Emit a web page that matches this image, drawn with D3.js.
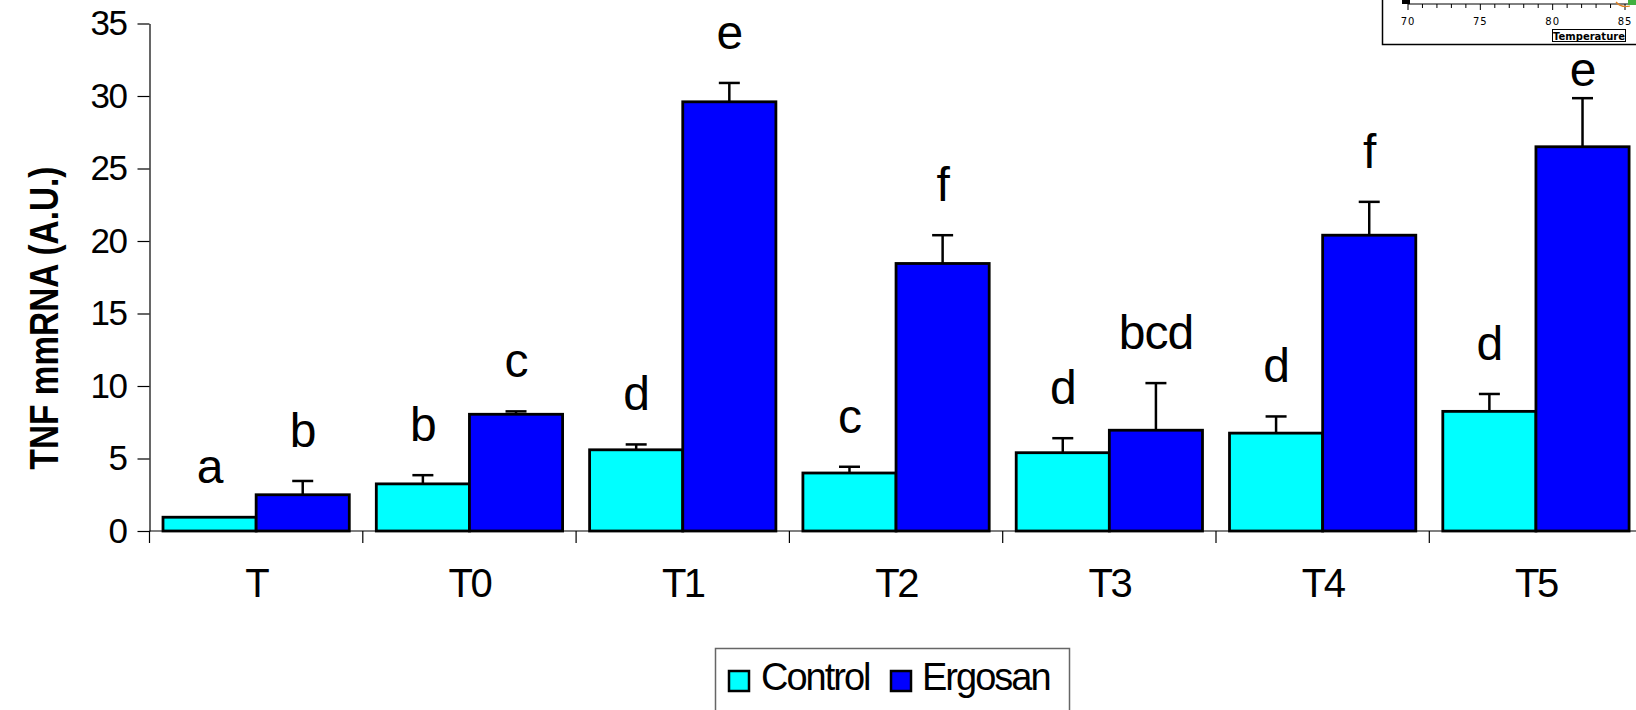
<!DOCTYPE html>
<html>
<head>
<meta charset="utf-8">
<script src="https://cdn.jsdelivr.net/npm/d3@7"></script>
<style>
  html, body { margin: 0; padding: 0; background: #fff; }
  svg { display: block; font-family: "Liberation Sans", Arial, sans-serif; }
</style>
</head>
<body>
<div id="chart"></div>
<script>
// values
var categories = ['T', 'T0', 'T1', 'T2', 'T3', 'T4', 'T5'];
var groups = ['Control', 'Ergosan'];
var controlMean = [0.95, 3.25, 5.6, 4.0, 5.4, 6.75, 8.25];
var controlErr = [0, 0.6, 0.37, 0.43, 1.0, 1.15, 1.2];
var ergosanMean = [2.5, 8.05, 29.6, 18.45, 6.95, 20.4, 26.5];
var ergosanErr = [0.95, 0.2, 1.3, 1.95, 3.25, 2.3, 3.35];
var controlLetters = ['a', 'b', 'd', 'c', 'd', 'd', 'd'];
var ergosanLetters = ['b', 'c', 'e', 'f', 'bcd', 'f', 'e'];
var yTicks = [0, 5, 10, 15, 20, 25, 30, 35];
var insetTicks = [70, 75, 80, 85];

var W = 1636, H = 710;
var colors = { Control: '#00ffff', Ergosan: '#0000ff' };
var insetLeft = 1382.5, insetBottom = 44;

var svg = d3.select('#chart').append('svg')
    .attr('width', W)
    .attr('height', H);

var y = d3.scaleLinear().domain([0, 35]).range([531, 23.5]);
var x0 = d3.scaleBand().domain(categories).range([149.5, 149.5 + 7 * 213.3]).padding(0);
var x1 = d3.scaleBand().domain(groups).range([0, x0.bandwidth()]).paddingInner(0).paddingOuter(0.145);

var rows = categories.map(function (c, i) {
    return [
        { cat: c, key: 'Control', v: controlMean[i], e: controlErr[i], letter: controlLetters[i] },
        { cat: c, key: 'Ergosan', v: ergosanMean[i], e: ergosanErr[i], letter: ergosanLetters[i] }
    ];
});
var flat = d3.merge(rows);
function barMid(d) { return x0(d.cat) + x1(d.key) + x1.bandwidth() / 2; }

// y axis
var yAxis = svg.append('g')
    .attr('transform', 'translate(149.5,0)')
    .call(d3.axisLeft(y).tickValues(yTicks).tickSize(12).tickSizeOuter(0).tickPadding(11));
yAxis.select('.domain').attr('stroke', '#000').attr('stroke-width', 1.2);
yAxis.selectAll('.tick line').attr('stroke', '#000').attr('stroke-width', 1.2);
yAxis.selectAll('.tick text')
    .attr('font-size', 35)
    .attr('letter-spacing', -1.5)
    .attr('fill', '#000')
    .attr('font-family', '"Liberation Sans", Arial, sans-serif');

// x axis baseline and group separators
svg.append('line')
    .attr('x1', 149.5).attr('x2', W)
    .attr('y1', y(0)).attr('y2', y(0))
    .attr('stroke', '#000').attr('stroke-width', 1.2);
var bounds = categories.map(function (c) { return x0(c); });
bounds.push(x0(categories[categories.length - 1]) + x0.bandwidth());
svg.selectAll('line.sep')
    .data(bounds)
    .enter().append('line')
    .attr('class', 'sep')
    .attr('x1', function (d) { return d; }).attr('x2', function (d) { return d; })
    .attr('y1', y(0)).attr('y2', y(0) + 12)
    .attr('stroke', '#000').attr('stroke-width', 1.2);

svg.selectAll('text.cat')
    .data(categories)
    .enter().append('text')
    .attr('class', 'cat')
    .attr('x', function (d) { return x0(d) + x0.bandwidth() / 2; })
    .attr('y', 597)
    .attr('text-anchor', 'middle')
    .attr('font-size', 40)
    .attr('letter-spacing', -2.5)
    .text(function (d) { return d; });

// error bars (upper half only)
var errs = flat.filter(function (d) { return d.e > 0; });
svg.selectAll('line.err')
    .data(errs)
    .enter().append('line')
    .attr('class', 'err')
    .attr('x1', barMid).attr('x2', barMid)
    .attr('y1', function (d) { return y(d.v); })
    .attr('y2', function (d) { return y(d.v + d.e); })
    .attr('stroke', '#000').attr('stroke-width', 2.5);
svg.selectAll('line.cap')
    .data(errs)
    .enter().append('line')
    .attr('class', 'cap')
    .attr('x1', function (d) { return barMid(d) - 10.5; })
    .attr('x2', function (d) { return barMid(d) + 10.5; })
    .attr('y1', function (d) { return y(d.v + d.e); })
    .attr('y2', function (d) { return y(d.v + d.e); })
    .attr('stroke', '#000').attr('stroke-width', 2.5);

// bars
svg.selectAll('rect.bar')
    .data(flat)
    .enter().append('rect')
    .attr('class', 'bar')
    .attr('x', function (d) { return x0(d.cat) + x1(d.key); })
    .attr('y', function (d) { return y(d.v); })
    .attr('width', x1.bandwidth())
    .attr('height', function (d) { return y(0) - y(d.v); })
    .attr('fill', function (d) { return colors[d.key]; })
    .attr('stroke', '#000')
    .attr('stroke-width', 2.8);

// significance letters (the one under the inset is kept below it)
svg.selectAll('text.letter')
    .data(flat)
    .enter().append('text')
    .attr('class', 'letter')
    .attr('x', barMid)
    .attr('y', function (d) {
        var ly = y(d.v + d.e) - 34;
        if (barMid(d) > insetLeft) ly = Math.max(ly, insetBottom + 42);
        return ly;
    })
    .attr('text-anchor', 'middle')
    .attr('font-size', 48)
    .attr('letter-spacing', -1)
    .text(function (d) { return d.letter; });

// y title
svg.append('text')
    .attr('transform', 'translate(58,318) rotate(-90)')
    .attr('text-anchor', 'middle')
    .attr('font-size', 41)
    .attr('font-weight', 'bold')
    .attr('textLength', 303)
    .attr('lengthAdjust', 'spacingAndGlyphs')
    .text('TNF mmRNA (A.U.)');

// legend
var legend = svg.append('g');
legend.append('rect')
    .attr('x', 715.5).attr('y', 648.5)
    .attr('width', 354).attr('height', 80)
    .attr('fill', '#fff').attr('stroke', '#666').attr('stroke-width', 1.5);
var legendX = [729, 891];
var legendTextX = [761, 922];
groups.forEach(function (g, i) {
    legend.append('rect')
        .attr('x', legendX[i]).attr('y', 671)
        .attr('width', 20).attr('height', 20)
        .attr('fill', colors[g]).attr('stroke', '#000').attr('stroke-width', 2.5);
    legend.append('text')
        .attr('x', legendTextX[i]).attr('y', 690)
        .attr('font-size', 38)
        .attr('letter-spacing', -2)
        .text(g);
});

// stray inset from a neighbouring figure, top right
var inset = svg.append('g');
var ix = d3.scaleLinear().domain([70, 85]).range([1408, 1625]);
inset.append('rect')
    .attr('x', insetLeft).attr('y', -5)
    .attr('width', 300).attr('height', insetBottom + 5.5)
    .attr('fill', '#fff').attr('stroke', '#000').attr('stroke-width', 1.5);
inset.append('line')
    .attr('x1', ix(70)).attr('x2', W)
    .attr('y1', 4).attr('y2', 4)
    .attr('stroke', '#000').attr('stroke-width', 1);
inset.selectAll('line.mt')
    .data(d3.range(70, 86))
    .enter().append('line')
    .attr('class', 'mt')
    .attr('x1', function (d) { return ix(d); }).attr('x2', function (d) { return ix(d); })
    .attr('y1', 4).attr('y2', function (d) { return d % 5 === 0 ? 10 : 8; })
    .attr('stroke', '#000').attr('stroke-width', 1);
inset.selectAll('text.it')
    .data(insetTicks)
    .enter().append('text')
    .attr('class', 'it')
    .attr('x', function (d) { return ix(d); })
    .attr('y', 25)
    .attr('text-anchor', 'middle')
    .attr('font-size', 10)
    .attr('letter-spacing', 1)
    .attr('font-family', '"DejaVu Sans", sans-serif')
    .text(function (d) { return d; });
inset.append('path')
    .attr('d', 'M1402,0 L1410,0 L1410,4 L1402,4 Z')
    .attr('fill', '#000');
inset.append('path')
    .attr('d', 'M1616,2 Q1621,8 1630,6')
    .attr('fill', 'none').attr('stroke', '#e08020').attr('stroke-width', 1.2);
inset.append('rect')
    .attr('x', 1628).attr('y', 0).attr('width', 8).attr('height', 5)
    .attr('fill', '#40b040');
inset.append('rect')
    .attr('x', 1552.5).attr('y', 29.5).attr('width', 73).attr('height', 12)
    .attr('fill', '#fff').attr('stroke', '#000').attr('stroke-width', 1);
inset.append('text')
    .attr('x', 1589).attr('y', 39.5)
    .attr('text-anchor', 'middle')
    .attr('font-size', 10)
    .attr('font-weight', 'bold')
    .attr('font-family', '"DejaVu Sans", sans-serif')
    .text('Temperature');
</script>
</body>
</html>
